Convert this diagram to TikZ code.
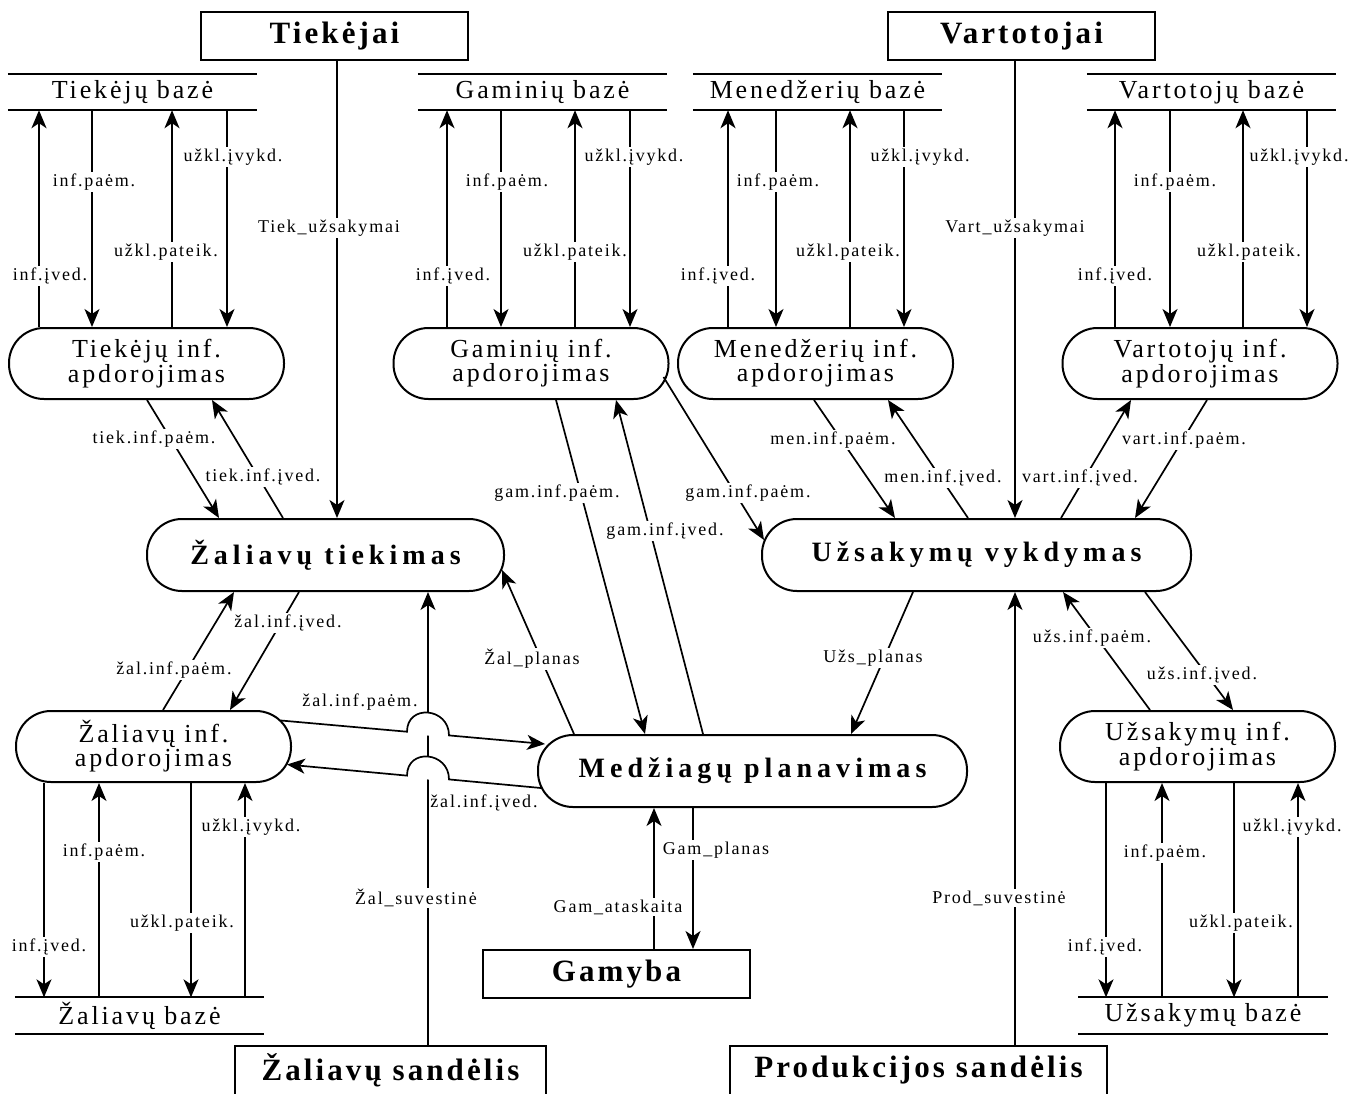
\documentclass[tikz,border=0pt]{standalone}
\usepackage{fontspec}
\setmainfont{Liberation Serif}
\newfontfamily\labfam{Liberation Serif}[LetterSpace=10]
\newfontfamily\procfam{Liberation Serif}[LetterSpace=11]
\newfontfamily\bigfam{Liberation Serif}[LetterSpace=18]
\newfontfamily\boxfam{Liberation Serif}[LetterSpace=10]
\usetikzlibrary{arrows.meta,calc}

\tikzset{
  lw/.style={line width=1.7pt},
  arr/.style={lw,-{Stealth[length=18pt,width=15pt,inset=5pt]}},
  lab/.style={font=\labfam\fontsize{18}{20}\selectfont, fill=white, inner sep=1.5pt},
  proc/.style={draw, line width=2pt, rounded corners=35pt, minimum width=275pt,
    minimum height=71pt, inner sep=0pt, align=center,
    font=\procfam\fontsize{26}{22}\selectfont},
  mainproc/.style={draw, line width=2pt, rounded corners=35pt, minimum height=72pt,
    inner sep=0pt, font=\bigfam\bfseries\fontsize{28}{30}\selectfont},
  store/.style={minimum width=249pt, minimum height=36pt, inner sep=0pt,
    font=\procfam\fontsize{26}{28}\selectfont},
  ext/.style={draw, line width=2pt, minimum height=48pt, inner sep=0pt,
    font=\boxfam\bfseries\fontsize{31}{33}\selectfont},
  extopen/.style={minimum height=48pt, inner sep=0pt,
    font=\boxfam\bfseries\fontsize{31}{33}\selectfont},
}

\begin{document}
\begin{tikzpicture}[x=1pt,y=-1pt]
\fill[white] (0,0) rectangle (1348,1093);
\useasboundingbox (0,0) rectangle (1348,1093);

% external entities
\node[ext, minimum width=267pt] (tiek) at (334.5,36) {Tiekėjai};
\node[ext, minimum width=267pt] (vart) at (1021.5,36) {Vartotojai};
\node[ext, minimum width=267pt] (gam) at (616.5,974) {Gamyba};
\node[extopen, minimum width=311pt] (zs) at (390.5,1070) {Žaliavų sandėlis};
\node[extopen, minimum width=377pt] (ps) at (918.5,1070) {Produkcijos sandėlis};
\draw[line width=2pt] (zs.south west) -- (zs.north west) -- (zs.north east) -- (zs.south east);
\draw[line width=2pt] (ps.south west) -- (ps.north west) -- (ps.north east) -- (ps.south east);

% data stores
\node[store] (sT) at (132.5,92) {Tiekėjų bazė};
\node[store] (sG) at (542.5,92) {Gaminių bazė};
\node[store] (sM) at (817.5,92) {Menedžerių bazė};
\node[store] (sV) at (1211.5,92) {Vartotojų bazė};
\node[store] (sZ) at (139.5,1015.5) {Žaliavų bazė};
\node[store] (sU) at (1203,1015.5) {Užsakymų bazė};
\foreach \s in {sT,sG,sM,sV,sZ,sU}
  \draw[line width=2pt] (\s.north west) -- (\s.north east) (\s.south west) -- (\s.south east);

% processes
\node[proc] (pT) at (146.5,363.5) {Tiekėjų inf.\\apdorojimas};
\node[proc] (pG) at (531,363.5) {Gaminių inf.\\apdorojimas};
\node[proc] (pM) at (815.5,363.5) {Menedžerių inf.\\apdorojimas};
\node[proc] (pV) at (1200,363.5) {Vartotojų inf.\\apdorojimas};
\node[proc] (pZ) at (153.5,746.5) {Žaliavų inf.\\apdorojimas};
\node[proc] (pU) at (1197.5,746.5) {Užsakymų inf.\\apdorojimas};
\node[mainproc, minimum width=357pt] (mZ) at (325.5,555) {Žaliavų tiekimas};
\node[mainproc, minimum width=429pt] (mU) at (976.5,555) {Užsakymų vykdymas};
\node[mainproc, minimum width=429pt] (mM) at (752.5,771) {Medžiagų planavimas};

% store <-> process flows, top row
\draw[arr] (pT.north -| 39,0) -- (sT.south -| 39,0);
\draw[arr] (sT.south -| 92,0) -- (pT.north -| 92,0);
\draw[arr] (pT.north -| 172,0) -- (sT.south -| 172,0);
\draw[arr] (sT.south -| 227,0) -- (pT.north -| 227,0);

\draw[arr] (pG.north -| 447,0) -- (sG.south -| 447,0);
\draw[arr] (sG.south -| 501,0) -- (pG.north -| 501,0);
\draw[arr] (pG.north -| 575,0) -- (sG.south -| 575,0);
\draw[arr] (sG.south -| 630,0) -- (pG.north -| 630,0);

\draw[arr] (pM.north -| 728,0) -- (sM.south -| 728,0);
\draw[arr] (sM.south -| 776,0) -- (pM.north -| 776,0);
\draw[arr] (pM.north -| 850,0) -- (sM.south -| 850,0);
\draw[arr] (sM.south -| 904,0) -- (pM.north -| 904,0);

\draw[arr] (pV.north -| 1115,0) -- (sV.south -| 1115,0);
\draw[arr] (sV.south -| 1170,0) -- (pV.north -| 1170,0);
\draw[arr] (pV.north -| 1243,0) -- (sV.south -| 1243,0);
\draw[arr] (sV.south -| 1307,0) -- (pV.north -| 1307,0);

% store <-> process flows, bottom row
\draw[arr] (pZ.south -| 44,0) -- (sZ.north -| 44,0);
\draw[arr] (sZ.north -| 99,0) -- (pZ.south -| 99,0);
\draw[arr] (pZ.south -| 191,0) -- (sZ.north -| 191,0);
\draw[arr] (sZ.north -| 245,0) -- (pZ.south -| 245,0);

\draw[arr] (pU.south -| 1106,0) -- (sU.north -| 1106,0);
\draw[arr] (sU.north -| 1162,0) -- (pU.south -| 1162,0);
\draw[arr] (pU.south -| 1234,0) -- (sU.north -| 1234,0);
\draw[arr] (sU.north -| 1298,0) -- (pU.south -| 1298,0);

% entity flows
\draw[arr] (tiek.south -| 337,0) -- (mZ.north -| 337,0);
\draw[arr] (vart.south -| 1015,0) -- (mU.north -| 1015,0);
\draw[arr] (ps.north -| 1015,0) -- (mU.south -| 1015,0);
\draw[arr] (zs.north -| 428,0) -- (mZ.south -| 428,0);
\draw[arr] (gam.north -| 654,0) -- (mM.south -| 654,0);
\draw[arr] (mM.south -| 693,0) -- (gam.north -| 693,0);

% process <-> process flows
\draw[arr] (pT.south -| 147,0) -- (mZ.north -| 219,0);
\draw[arr] (mZ.north -| 283,0) -- (pT.south -| 212,0);
\draw[arr] (pG.south -| 556,0) -- (mM.north -| 645,0);
\draw[arr] (mM.north -| 703,0) -- (pG.south -| 616,0);
\draw[arr] ($(pG.east)+(-6,13.5)$) -- ($(mU.west)+(3,-15)$);
\draw[arr] (pM.south -| 814,0) -- (mU.north -| 895,0);
\draw[arr] (mU.north -| 968,0) -- (pM.south -| 888,0);
\draw[arr] (mU.north -| 1061,0) -- (pV.south -| 1131,0);
\draw[arr] (pV.south -| 1207,0) -- (mU.north -| 1135,0);
\draw[arr] (mU.south -| 913,0) -- (mM.north -| 851,0);
\draw[arr] (pU.north -| 1150,0) -- (mU.south -| 1063,0);
\draw[arr] (mU.south -| 1145,0) -- (pU.north -| 1233,0);
\draw[arr] (pZ.north -| 163,0) -- (mZ.south -| 234,0);
\draw[arr] (mZ.south -| 299,0) -- (pZ.north -| 230,0);
\draw[arr] (mM.north -| 574,0) -- ($(mZ.east)+(-3,15)$);

% flows that hop over the warehouse line
\coordinate (h1s) at ($(pZ.east)+(-11,-26)$);
\coordinate (h1e) at ($(mM.west)+(8,-27)$);
\coordinate (h1a) at (407,731.7);
\coordinate (h1b) at (449,735.4);
\coordinate (h2s) at ($(mM.west)+(4,17)$);
\coordinate (h2e) at ($(pZ.east)+(-5,18)$);
\coordinate (h2a) at (449,779.4);
\coordinate (h2b) at (407,775.6);
\fill[white] ($(h1a)+(0,2)$) -- (h1a) .. controls ($(h1a)+(0,-28)$) and ($(h1b)+(0,-28)$) .. (h1b) -- ($(h1b)+(0,2)$) -- cycle;
\fill[white] ($(h2b)+(0,2)$) -- (h2b) .. controls ($(h2b)+(0,-28)$) and ($(h2a)+(0,-28)$) .. (h2a) -- ($(h2a)+(0,2)$) -- cycle;
\draw[arr] (h1s) -- (h1a) .. controls ($(h1a)+(0,-28)$) and ($(h1b)+(0,-28)$) .. (h1b) -- (h1e);
\draw[arr] (h2s) -- (h2a) .. controls ($(h2a)+(0,-28)$) and ($(h2b)+(0,-28)$) .. (h2b) -- (h2e);

% flow labels
\node[lab] (lT1) at (50,276) {inf.įved.};
\node[lab] (lT2) at (94,182) {inf.paėm.};
\node[lab] (lT3) at (166,252) {užkl.pateik.};
\node[lab] (lT4) at (233,157) {užkl.įvykd.};
\node[lab] (lG1) at (453,276) {inf.įved.};
\node[lab] (lG2) at (507,182) {inf.paėm.};
\node[lab] (lG3) at (575,252) {užkl.pateik.};
\node[lab] (lG4) at (634,157) {užkl.įvykd.};
\node[lab] (lM1) at (718,276) {inf.įved.};
\node[lab] (lM2) at (778,182) {inf.paėm.};
\node[lab] (lM3) at (848,252) {užkl.pateik.};
\node[lab] (lM4) at (920,157) {užkl.įvykd.};
\node[lab] (lV1) at (1115,276) {inf.įved.};
\node[lab] (lV2) at (1175,182) {inf.paėm.};
\node[lab] (lV3) at (1249,252) {užkl.pateik.};
\node[lab] (lV4) at (1299,157) {užkl.įvykd.};
\node[lab] (lZ1) at (49,947) {inf.įved.};
\node[lab] (lZ2) at (104,852) {inf.paėm.};
\node[lab] (lZ3) at (182,923) {užkl.pateik.};
\node[lab] (lZ4) at (251,827) {užkl.įvykd.};
\node[lab] (lU1) at (1105,947) {inf.įved.};
\node[lab] (lU2) at (1165,853) {inf.paėm.};
\node[lab] (lU3) at (1241,923) {užkl.pateik.};
\node[lab] (lU4) at (1292,827) {užkl.įvykd.};

\node[lab] (lTu) at (329,228) {Tiek\_užsakymai};
\node[lab] (lVu) at (1015,228) {Vart\_užsakymai};
\node[lab] (lPs) at (999,898) {Prod\_suvestinė};
\node[lab] (lZs) at (416,898) {Žal\_suvestinė};
\node[lab] (lGa) at (618,907) {Gam\_ataskaita};
\node[lab] (lGp) at (716,850) {Gam\_planas};
\node[lab] (lUp) at (873,658) {Užs\_planas};
\node[lab] (lZp) at (532,659) {Žal\_planas};

\node[lab] (ltp) at (154,439) {tiek.inf.paėm.};
\node[lab] (lti) at (263,477) {tiek.inf.įved.};
\node[lab] (lgp) at (557,493) {gam.inf.paėm.};
\node[lab] (lgi) at (665,531) {gam.inf.įved.};
\node[lab] (lgp2) at (748,493) {gam.inf.paėm.};
\node[lab] (lmp) at (833,440) {men.inf.paėm.};
\node[lab] (lmi) at (943,478) {men.inf.įved.};
\node[lab] (lvi) at (1080,478) {vart.inf.įved.};
\node[lab] (lvp) at (1184,440) {vart.inf.paėm.};
\node[lab] (lup) at (1092,638) {užs.inf.paėm.};
\node[lab] (lui) at (1202,675) {užs.inf.įved.};
\node[lab] (lzi) at (288,623) {žal.inf.įved.};
\node[lab] (lzp) at (174,670) {žal.inf.paėm.};
\node[lab] (lzp2) at (360,702) {žal.inf.paėm.};
\node[lab] (lzi2) at (484,803) {žal.inf.įved.};
\end{tikzpicture}
\end{document}
